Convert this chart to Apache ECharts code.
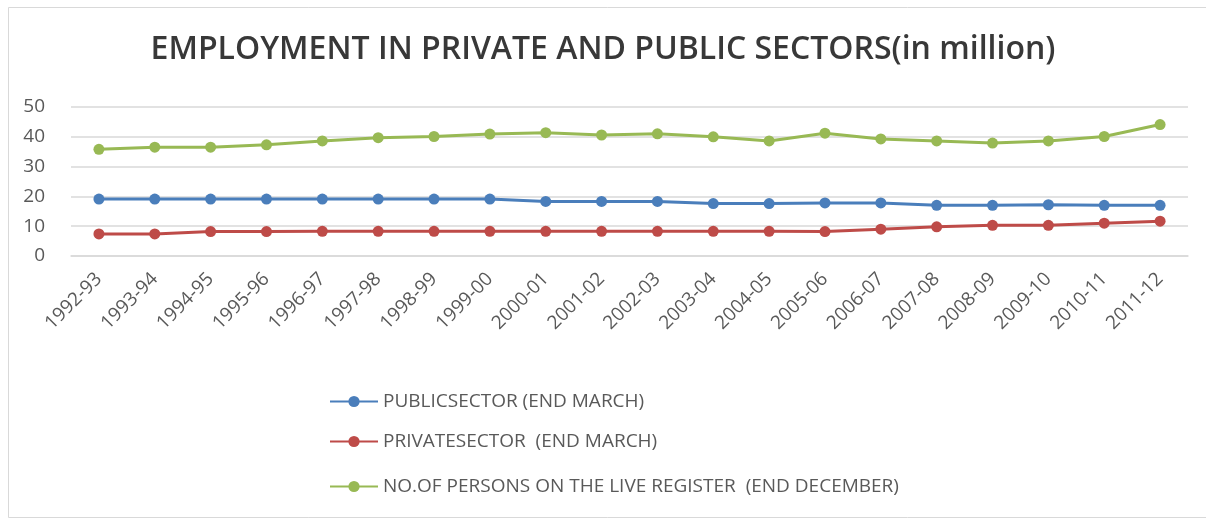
<!DOCTYPE html>
<html>
<head>
<meta charset="utf-8">
<script src="https://cdn.jsdelivr.net/npm/echarts@6/dist/echarts.min.js"></script>
<style>
  html, body { margin: 0; padding: 0; background: #ffffff; }
  #chart { width: 1206px; height: 519px; }
</style>
</head>
<body>
<div id="chart"></div>
<script>
// Financial years on the category axis
const years = [
  '1992-93', '1993-94', '1994-95', '1995-96', '1996-97', '1997-98', '1998-99',
  '1999-00', '2000-01', '2001-02', '2002-03', '2003-04', '2004-05', '2005-06',
  '2006-07', '2007-08', '2008-09', '2009-10', '2010-11', '2011-12'
];

// Employment, in million
const publicSector = [
  19.1, 19.1, 19.1, 19.1, 19.1, 19.1, 19.1, 19.1, 18.3, 18.3,
  18.3, 17.6, 17.6, 17.8, 17.8, 17.0, 17.0, 17.2, 17.0, 17.0
];
const privateSector = [
  7.4, 7.4, 8.2, 8.2, 8.3, 8.3, 8.3, 8.3, 8.3, 8.3,
  8.3, 8.3, 8.3, 8.2, 9.0, 9.8, 10.3, 10.3, 11.0, 11.7
];
const liveRegister = [
  35.8, 36.5, 36.5, 37.3, 38.6, 39.7, 40.1, 40.9, 41.4, 40.6,
  41.0, 40.0, 38.6, 41.2, 39.3, 38.6, 37.9, 38.6, 40.1, 44.1
];

const yTicks = { min: 0, max: 50, interval: 10 };

const seriesNames = [
  'PUBLICSECTOR (END MARCH)',
  'PRIVATESECTOR  (END MARCH)',
  'NO.OF PERSONS ON THE LIVE REGISTER  (END DECEMBER)'
];
const seriesColors = ['#4a7ebb', '#be4b48', '#98b954'];
const seriesData = [publicSector, privateSector, liveRegister];

const textColor = '#595959';
const fontFamily = "'Open Sans', 'Liberation Sans', sans-serif";

const chart = echarts.init(document.getElementById('chart'), null, { renderer: 'canvas' });

// one legend block per series, stacked under the plot
const legendTops = [392, 432, 477];

chart.setOption({
  backgroundColor: '#ffffff',
  animation: false,
  color: seriesColors,
  title: {
    text: 'EMPLOYMENT IN PRIVATE AND PUBLIC SECTORS(in million)',
    left: 'center',
    top: 29,
    textStyle: {
      color: '#383838',
      fontSize: 32,
      fontWeight: 600,
      fontFamily: fontFamily
    }
  },
  graphic: [{
    type: 'rect',
    shape: { x: 8.5, y: 7.5, width: 1220, height: 510 },
    style: { fill: 'none', stroke: '#d9d9d9', lineWidth: 1 },
    z: -1
  }],
  legend: seriesNames.map((name, i) => ({
    data: [name],
    orient: 'vertical',
    left: 329,
    top: legendTops[i],
    padding: 0,
    itemWidth: 48,
    itemHeight: 14,
    textStyle: { color: textColor, fontSize: 19, fontFamily: fontFamily }
  })),
  grid: {
    left: 71,
    right: 18,
    top: 107,
    bottom: 263,
    containLabel: false
  },
  xAxis: {
    type: 'category',
    data: years,
    boundaryGap: true,
    axisLine: { show: true, lineStyle: { color: '#d9d9d9', width: 1.5 } },
    axisTick: { show: false },
    axisLabel: {
      rotate: 45,
      margin: 20,
      color: textColor,
      fontSize: 19,
      fontFamily: fontFamily,
      interval: 0
    }
  },
  yAxis: {
    type: 'value',
    min: yTicks.min,
    max: yTicks.max,
    interval: yTicks.interval,
    axisLine: { show: false },
    axisTick: { show: false },
    splitLine: { lineStyle: { color: '#d9d9d9', width: 1.5 } },
    axisLabel: {
      margin: 26,
      color: textColor,
      fontSize: 19,
      fontFamily: fontFamily
    }
  },
  series: seriesNames.map((name, i) => ({
    name: name,
    type: 'line',
    data: seriesData[i],
    symbol: 'circle',
    symbolSize: 11,
    lineStyle: { width: 3, color: seriesColors[i] },
    itemStyle: { color: seriesColors[i] }
  }))
});
</script>
</body>
</html>
